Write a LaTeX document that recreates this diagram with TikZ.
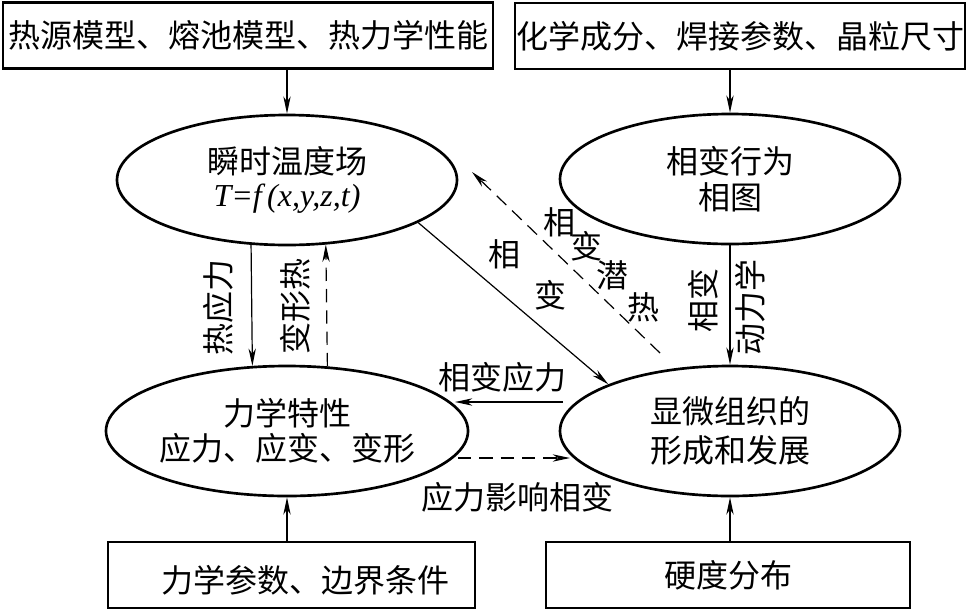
\documentclass[tikz,border=0pt]{standalone}
\usepackage{fontspec}
\setmainfont{Noto Sans CJK SC}
\newfontfamily\tms{Liberation Serif}
\usetikzlibrary{shapes.geometric,arrows.meta}
\begin{document}
\begin{tikzpicture}[x=0.75pt,y=-0.75pt,
  every node/.style={font=\fontsize{24}{25}\selectfont, inner sep=0pt},
  box/.style={draw, line width=2pt, rectangle, minimum height=49.5pt},
  ell/.style={draw, line width=2pt, ellipse, minimum width=255pt, minimum height=97.5pt, align=center},
  arr/.style={line width=0.9pt, -{Stealth[length=13pt,width=5.5pt,inset=4pt]}},
  darr/.style={arr, dash pattern=on 10pt off 6pt},
]
\useasboundingbox (0,0) rectangle (967,611);

% boxes
\node[box, minimum width=367.5pt] (tl) at (248,35.5) {热源模型、熔池模型、热力学性能};
\node[box, minimum width=337.5pt] (tr) at (740,36) {化学成分、焊接参数、晶粒尺寸};
\node[box, minimum width=275.25pt] (bl) at (291.5,575) {};
\node (blt) at (305,580) {力学参数、边界条件};
\node[box, minimum width=273pt] (br) at (728,575) {硬度分布};

% ellipses
\node[ell] (e1) at (287,180) {瞬时温度场\\[0pt]{\tms\itshape T=f\,(x,y,z,t)}};
\node[ell] (e2) at (730,179) {相变行为\\[2pt]相图};
\node[ell] (e3) at (287,431) {力学特性\\[1pt]应力、应变、变形};
\node[ell] (e4) at (730,431) {显微组织的\\[4pt]形成和发展};

% input arrows
\draw[arr] (e1.north |- tl.south) -- (e1.north);
\draw[arr] (e2.north |- tr.south) -- (e2.north);
\draw[arr] (e3.south |- bl.north) -- (e3.south);
\draw[arr] (e4.south |- br.north) -- (e4.south);

% vertical arrows between ellipses
\draw[arr] (e1.241.18) -- (e3.118.82);
\draw[darr] (e3.58.35) -- (e1.301.65);
\draw[arr] (e2.south) -- (e4.north);

% diagonal arrows
\draw[arr] (e1.342.5) -- (e4.159.5);
\coordinate (d1) at (660,353);
\coordinate (d2) at (472,172);
\draw[darr] (d1) -- (d2);

% horizontal arrows
\coordinate (h1) at (563,402);
\coordinate (h2) at (455,402);
\draw[arr] (h1) -- (h2);
\coordinate (h3) at (458,458);
\coordinate (h4) at (570,458);
\draw[darr] (h3) -- (h4);

% labels
\node[rotate=90] (l1) at (218,307) {热应力};
\node[rotate=90] (l2) at (295,306) {变形热};
\node[rotate=90] (l3) at (703,300) {相变};
\node[rotate=90] (l4) at (750,307) {动力学};
\node (p1) at (504,254) {相};
\node (p2) at (550,295) {变};
\node (q1) at (559,222) {相};
\node (q2) at (586,246) {变};
\node (q3) at (612,275) {潜};
\node (q4) at (643,307) {热};
\node (m1) at (502,377) {相变应力};
\node (m2) at (517,497) {应力影响相变};
\end{tikzpicture}
\end{document}
